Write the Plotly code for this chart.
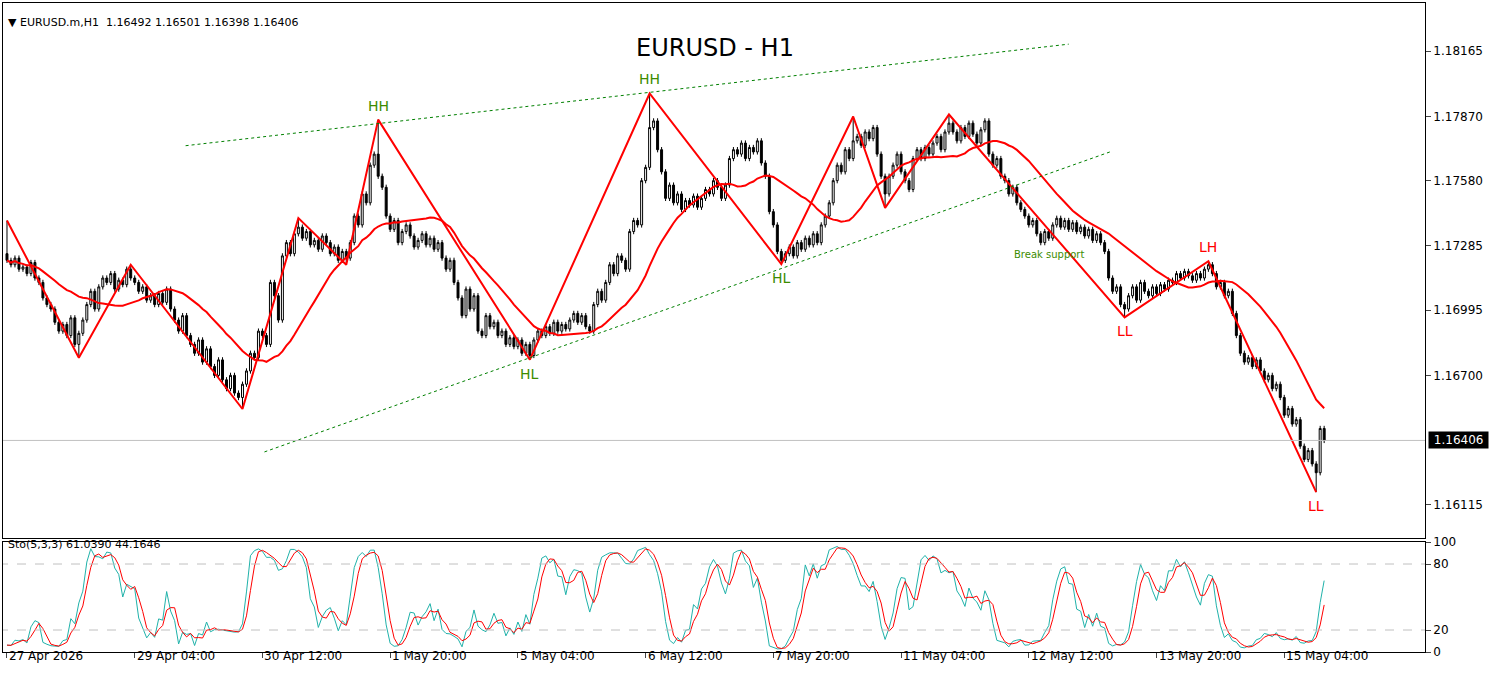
import numpy as np
import pandas as pd
import plotly.graph_objects as go

closes = [
1.1722,1.1720,1.1723,1.1718,1.1719,1.1716,1.1721,1.1714,1.1712,1.1705,1.1702,1.1700,1.1694,1.1690,1.1693,1.1688,1.1696,1.1684,1.1689,
1.1695,1.1702,1.1708,1.1700,1.1710,1.1714,1.1712,1.1716,1.1709,1.1713,1.1711,1.1718,1.1714,
1.1712,1.1708,1.1710,1.1704,1.1706,1.1702,1.1707,1.1703,1.1709,1.1700,
1.1695,1.1690,1.1697,1.1688,1.1684,1.1680,1.1686,1.1676,1.1682,
1.1674,1.1670,1.1677,1.1668,1.1664,1.1670,1.1662,1.1660,1.1666,
1.1672,1.1680,1.1678,1.1690,1.1688,1.1684,1.1712,1.1706,1.1695,1.1724,1.1730,1.1725,1.1734,1.1737,
1.1732,1.1735,1.1729,1.1731,1.1727,1.1733,1.1730,1.1725,1.1728,1.1722,1.1726,1.1723,
1.1730,1.1742,1.1738,1.1752,1.1748,1.1765,1.1770,1.1760,
1.1755,1.1742,1.1736,1.1740,1.1730,1.1735,1.1738,1.1733,1.1728,1.1731,1.1734,1.1729,1.1732,1.1727,1.1730,
1.1723,1.1718,1.1722,1.1712,1.1705,1.1697,1.1709,1.1700,1.1706,1.1690,1.1688,1.1697,1.1692,1.1694,1.1688,
1.1690,1.1684,1.1687,1.1683,1.1686,1.1680,1.1684,1.1679,
1.1686,1.1690,1.1688,1.1692,1.1689,1.1694,1.1690,1.1693,1.1691,1.1695,1.1698,1.1694,1.1697,1.1692,1.1690,
1.1702,1.1708,1.1704,1.1712,1.1720,1.1716,1.1724,1.1722,1.1718,1.1735,1.1740,1.1738,1.1758,1.1764,1.1782,
1.1785,1.1772,1.1762,1.1750,1.1756,1.1748,1.1752,1.1745,1.1749,1.1747,1.1751,1.1746,1.1750,1.1754,1.1752,
1.1758,1.1755,1.1750,1.1756,1.1768,1.1772,1.1770,1.1775,1.1768,1.1773,1.1771,1.1776,1.1766,1.1760,1.1744,
1.1738,1.1726,1.1722,
1.1725,1.1728,1.1724,1.1730,1.1727,1.1732,1.1729,1.1734,1.1730,1.1738,1.1742,1.1748,1.1758,1.1765,1.1762,1.1772,1.1768,1.1776,
1.1778,1.1774,1.1780,1.1777,1.1782,1.1770,1.1760,1.1752,
1.1760,1.1765,1.1770,1.1762,1.1758,1.1754,1.1768,1.1772,1.1768,1.1773,1.1770,1.1775,1.1778,1.1772,1.1780,1.1784,
1.1780,1.1776,1.1782,1.1778,1.1784,1.1779,1.1775,1.1781,1.1785,1.1770,1.1765,1.1768,1.1760,1.1758,1.1752,
1.1755,1.1748,1.1745,1.1742,1.1738,1.1740,1.1734,1.1730,1.1735,1.1732,1.1738,1.1741,1.1737,1.1740,1.1736,
1.1739,1.1735,1.1737,1.1733,1.1736,1.1731,1.1734,1.1730,1.1726,1.1714,1.1708,1.1710,1.1702,1.1700,
1.1706,1.1710,1.1704,1.1712,1.1708,1.1706,1.1710,1.1707,1.1711,1.1709,1.1713,1.1712,1.1716,1.1714,1.1717,
1.1715,1.1713,1.1716,1.1714,1.1718,1.1720,
1.1716,1.1710,1.1712,1.1706,1.1708,1.1698,1.1688,1.1680,1.1676,1.1678,1.1674,1.1677,1.1672,1.1668,1.1670,
1.1664,1.1666,1.1660,1.1652,1.1655,1.1648,1.1650,1.1638,1.1632,1.1636,1.1630,1.1626,
1.1646,1.16406]
first_open = 1.1725
wick = 0.00012

pivot_idx = [0, 18, 31, 59, 73, 85, 93, 131, 161, 194, 212, 220, 236, 280, 301, 328]
pivot_px = [1.1740, 1.1678, 1.1720, 1.16548, 1.17411, 1.1720, 1.17856, 1.16771, 1.17974,
            1.17203, 1.1787, 1.17457, 1.17879, 1.16962, 1.17216, 1.16172]

upper_line_x = [44.75, 266]; upper_line_y = [1.17738, 1.18197]
lower_line_x = [64.5, 276.5]; lower_line_y = [1.16354, 1.17711]

tick_idx = [0, 32, 64, 96, 128, 160, 192, 224, 256, 288, 320]
tick_labels = ["27 Apr 2026", "29 Apr 04:00", "30 Apr 12:00", "1 May 20:00", "5 May 04:00",
               "6 May 12:00", "7 May 20:00", "11 May 04:00", "12 May 12:00", "13 May 20:00", "15 May 04:00"]
price_ticks = [1.18165, 1.17870, 1.17580, 1.17285, 1.16995, 1.16700, 1.16115]
last_price = 1.16406

labels = [("HH", 93, 1.17856, "#3c8c00"), ("HH", 161, 1.17974, "#3c8c00"),
          ("HL", 131, 1.16771, "#3c8c00"), ("HL", 194, 1.17203, "#3c8c00"),
          ("LL", 280, 1.16962, "#ff0000"), ("LH", 301, 1.17216, "#ff0000"),
          ("LL", 328, 1.16172, "#ff0000")]

c = np.array(closes)
o = np.concatenate([[first_open], c[:-1]])
h = np.maximum(o, c) + wick
l = np.minimum(o, c) - wick
for i, p in zip(pivot_idx, pivot_px):
    if p > c[i]:
        h[i] = max(h[i], p)
    else:
        l[i] = min(l[i], p)
x = np.arange(len(c))
ma = pd.Series(c).rolling(21, min_periods=1).mean()

hh = pd.Series(h).rolling(5, min_periods=1).max()
ll = pd.Series(l).rolling(5, min_periods=1).min()
num = (pd.Series(c) - ll).rolling(3, min_periods=1).sum()
den = (hh - ll).rolling(3, min_periods=1).sum()
k = 100 * num / den
d = k.rolling(3, min_periods=1).mean()

FONT = "DejaVu Sans"
fig = go.Figure()
fig.add_trace(go.Candlestick(x=x, open=o, high=h, low=l, close=c,
    increasing=dict(line=dict(color="black", width=1), fillcolor="white"),
    decreasing=dict(line=dict(color="black", width=1), fillcolor="black"),
    whiskerwidth=0, xaxis="x", yaxis="y", showlegend=False))
fig.add_trace(go.Scatter(x=x, y=ma, mode="lines", line=dict(color="#ff0000", width=2), showlegend=False))
fig.add_trace(go.Scatter(x=pivot_idx, y=pivot_px, mode="lines", line=dict(color="#ff0000", width=2), showlegend=False))
for lx, ly in [(upper_line_x, upper_line_y), (lower_line_x, lower_line_y)]:
    fig.add_trace(go.Scatter(x=lx, y=ly, mode="lines", line=dict(color="#008000", width=1, dash="dot"), showlegend=False))
fig.add_trace(go.Scatter(x=[-2, 360], y=[last_price, last_price], mode="lines", line=dict(color="#c0c0c0", width=1), showlegend=False))
fig.add_trace(go.Scatter(x=x, y=k, mode="lines", line=dict(color="#20b2aa", width=1), xaxis="x2", yaxis="y2", showlegend=False))
fig.add_trace(go.Scatter(x=x, y=d, mode="lines", line=dict(color="#ff0000", width=1), xaxis="x2", yaxis="y2", showlegend=False))
for lv in [80, 20]:
    fig.add_trace(go.Scatter(x=[-2, 360], y=[lv, lv], mode="lines", line=dict(color="#c0c0c0", width=1, dash="dash"), xaxis="x2", yaxis="y2", showlegend=False))

ann = []
for t, i, p, col in labels:
    up = t in ("HH", "LH")
    ann.append(dict(x=i, y=p, text=t, showarrow=False, font=dict(family=FONT, size=14, color=col),
                    yshift=14 if up else -14, xref="x", yref="y"))
ann.append(dict(x=261, y=1.17245, text="Break support", showarrow=False, font=dict(family=FONT, size=10, color="#3c8c00")))
ann.append(dict(xref="paper", yref="paper", x=715/1499, y=1-32/679, text="EURUSD - H1", showarrow=False,
                font=dict(family=FONT, size=24, color="black")))
ann.append(dict(xref="paper", yref="paper", x=6/1499, y=1-14/679, xanchor="left", text="▼ EURUSD.m,H1  1.16492 1.16501 1.16398 1.16406",
                showarrow=False, font=dict(family=FONT, size=11, color="black")))
ann.append(dict(xref="paper", yref="paper", x=6/1499, y=1-553/679, xanchor="left", text="Sto(5,3,3) 61.0390 44.1646",
                showarrow=False, font=dict(family=FONT, size=11, color="black")))
ann.append(dict(xref="paper", x=1428/1499, y=last_price, yref="y", xanchor="left", text=" 1.16406 ",
                showarrow=False, bgcolor="black", font=dict(family=FONT, size=12, color="white")))
for i, t in zip(tick_idx, tick_labels):
    ann.append(dict(x=i, xref="x2", yref="paper", y=1-665/679, xanchor="left", text=t, showarrow=False,
                    font=dict(family=FONT, size=12, color="black")))

xr = [-1, 355.25]
axcommon = dict(showline=True, linecolor="black", mirror=True, showgrid=False, zeroline=False)
fig.update_layout(
    width=1499, height=679, margin=dict(l=0, r=0, t=0, b=0, autoexpand=False), paper_bgcolor="white", plot_bgcolor="white",
    xaxis=dict(domain=[0.002, 0.9506], range=xr, showticklabels=False, rangeslider=dict(visible=False), anchor="y", **axcommon),
    yaxis=dict(domain=[1-538/679, 1-3/679], range=[1.15965, 1.18383], side="right", tickvals=price_ticks,
               ticktext=[f"{v:.5f}" for v in price_ticks], ticks="outside", ticklen=5, anchor="x",
               tickfont=dict(family=FONT, size=12, color="black"), **axcommon),
    xaxis2=dict(domain=[0.002, 0.9506], range=xr, tickvals=tick_idx, showticklabels=False, ticks="outside", ticklen=5,
                anchor="y2", **axcommon),
    yaxis2=dict(domain=[1-652/679, 1-542/679], range=[0, 100], side="right", tickvals=[100, 80, 20, 0],
                ticks="outside", ticklen=5, anchor="x2", tickfont=dict(family=FONT, size=12, color="black"), **axcommon),
    annotations=ann,
)
fig.write_html("out.html", config={"displayModeBar": False},
               post_script="document.body.style.margin='0px';document.body.style.overflow='hidden';")
